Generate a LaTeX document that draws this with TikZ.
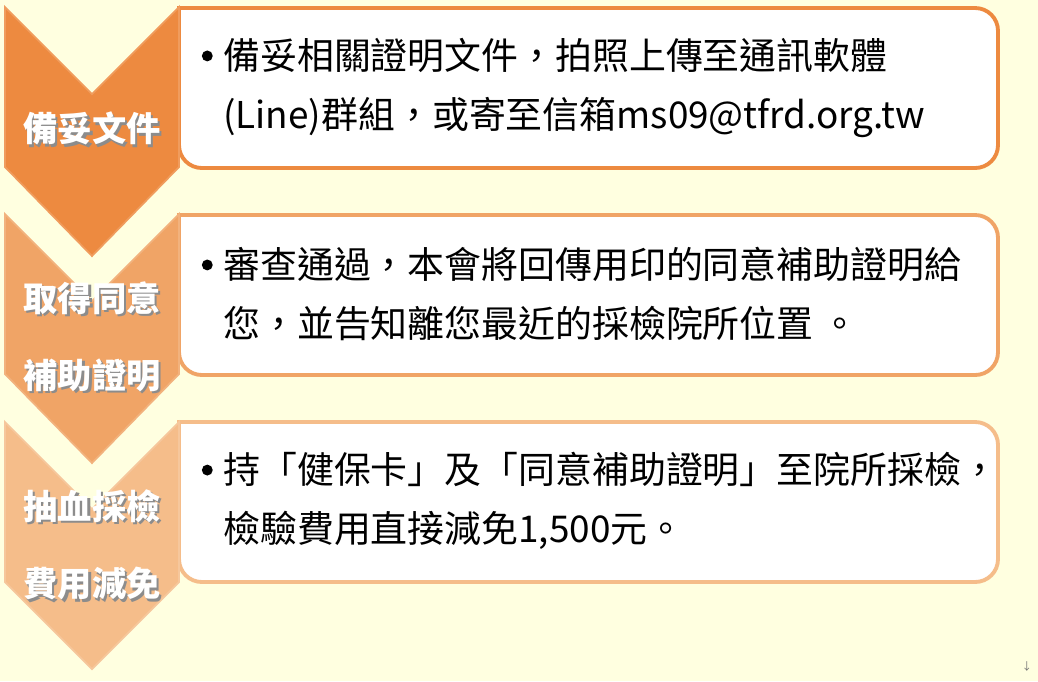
\documentclass[tikz,border=0pt]{standalone}
\usepackage{fontspec}
\setmainfont{Noto Sans CJK TC}
\definecolor{bgyellow}{HTML}{FFFFE0}
\definecolor{stageA}{HTML}{ED8A40}
\definecolor{stageB}{HTML}{F0A466}
\definecolor{stageC}{HTML}{F5BD8A}
\newcommand{\shadowed}[1]{\rlap{\kern1.3pt\raisebox{-1.3pt}{\textcolor{black!45}{#1}}}#1}
\newcommand{\bul}{\makebox[0.54cm][l]{\hspace{0.11cm}\tikz[baseline={(0pt,0pt)}]\fill (0pt,0.37em) circle (3.1pt);}}

\begin{document}
\begin{tikzpicture}[x=0.02cm,y=-0.02cm]
	\tikzstyle{stage shape}=[line width=1pt,line join=miter]
	\tikzstyle{stage text}=[text=white,inner sep=0pt,align=center,font=\fontsize{19.5}{44}\selectfont\bfseries]
	\tikzstyle{info box}=[fill=white,line width=2.2pt,rounded corners=13pt]
	\tikzstyle{info text}=[anchor=west,inner sep=0pt,align=left,font=\fontsize{21}{33.5}\selectfont]

	\fill[bgyellow] (0,0) rectangle (1038,681);
	\useasboundingbox (0,0) rectangle (1038,681);

	% boxes on the right
	\draw[info box,draw=stageA] (179,8) -- (998,8) -- (998,168) -- (179,168) [sharp corners] -- cycle;
	\draw[info box,draw=stageB] (179,215) -- (998,215) -- (998,375) -- (179,375) [sharp corners] -- cycle;
	\draw[info box,draw=stageC] (179,422) -- (998,422) -- (998,582) -- (179,582) [sharp corners] -- cycle;

	% chevrons
	\draw[stage shape,fill=stageA,draw=stageA!85!white] (5,7) -- (92,94) -- (179,7) -- (179,167) -- (92,256) -- (5,167) -- cycle;
	\draw[stage shape,fill=stageB,draw=stageB!85!white] (5,214) -- (92,301) -- (179,214) -- (179,374) -- (92,463) -- (5,374) -- cycle;
	\draw[stage shape,fill=stageC,draw=stageC!85!white] (5,422) -- (92,509) -- (179,422) -- (179,582) -- (92,669) -- (5,582) -- cycle;

	\node[stage text] (s1) at (92,130) {\shadowed{備妥文件}};
	\node[stage text] (s2) at (92,338) {\shadowed{取得同意}\\\shadowed{補助證明}};
	\node[stage text] (s3) at (92,546) {\shadowed{抽血採檢}\\\shadowed{費用減免}};

	\node[info text] (t1) at (196,88) {\bul 備妥相關證明文件，拍照上傳至通訊軟體\\\hphantom{\bul}(Line)群組，或寄至信箱ms09@tfrd.org.tw};
	\node[info text] (t2) at (196,294) {\bul 審查通過，本會將回傳用印的同意補助證明給\\\hphantom{\bul}您，並告知離您最近的採檢院所位置 。};
	\node[info text] (t3) at (196,501) {\bul 持「健保卡」及「同意補助證明」至院所採檢，\\\hphantom{\bul}檢驗費用直接減免1,500元。};

	\node[text=black!55,font=\fontsize{6}{6}\selectfont,inner sep=0pt] (mark) at (1027,667) {↓};
\end{tikzpicture}
\end{document}
